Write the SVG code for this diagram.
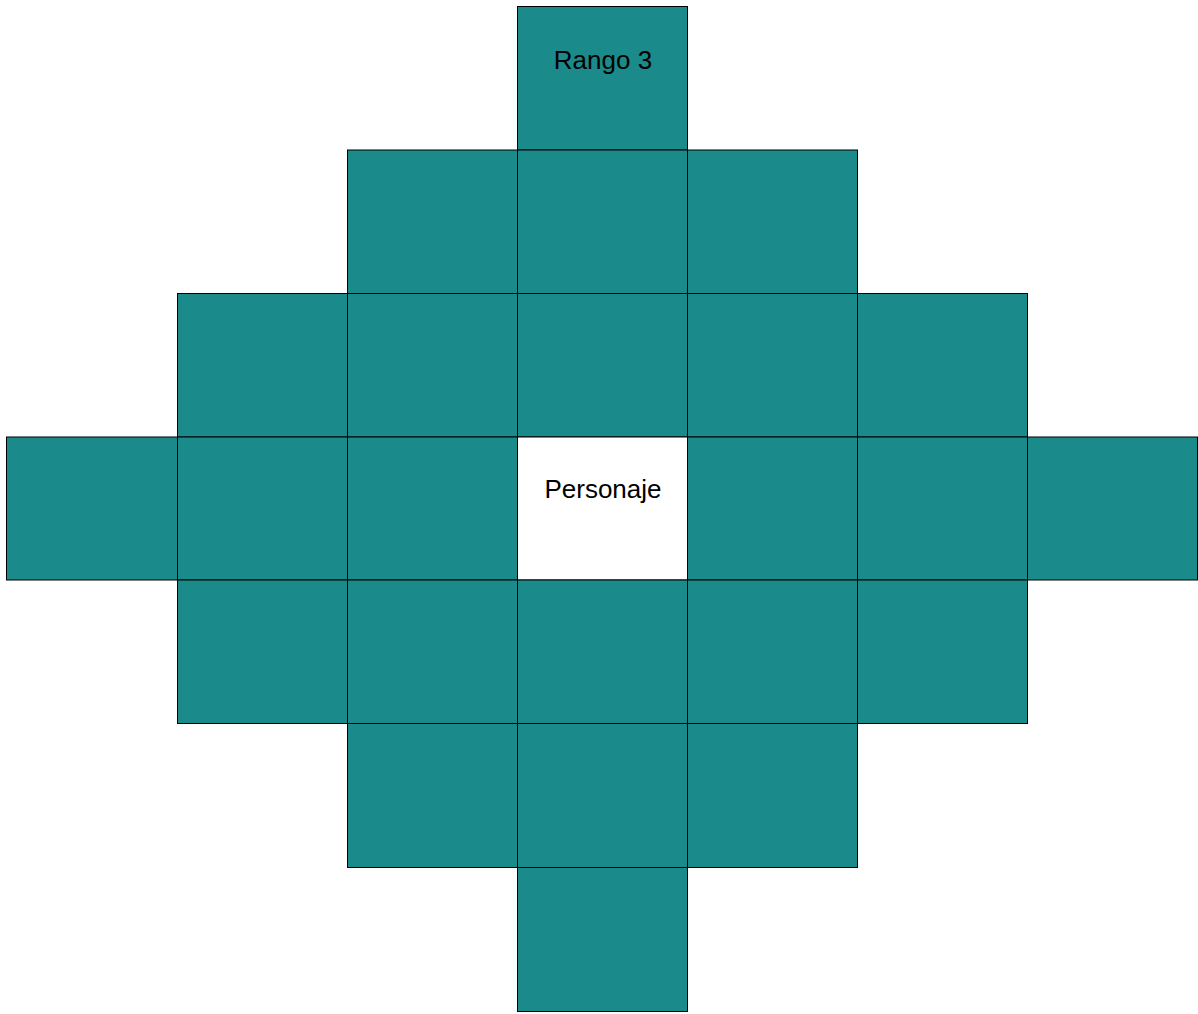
<svg xmlns="http://www.w3.org/2000/svg" width="1198" height="1014" viewBox="0 0 1198 1014">
<style>
.c{fill:#1a8a8a;stroke:#000;stroke-width:1}
.w{fill:#fff;stroke:#000;stroke-width:1}
.t{font-family:"Liberation Sans",Arial,sans-serif;font-size:26px;fill:#000;text-anchor:middle}
</style>
<rect width="1198" height="1014" fill="#fff"/>
<g id="r0c3"><rect class="c" x="517.5" y="6.5" width="170" height="143.5"/><text class="t" x="603" y="69">Rango 3</text></g>
<g id="r1c2"><rect class="c" x="347.5" y="150" width="170" height="143.5"/></g>
<g id="r1c3"><rect class="c" x="517.5" y="150" width="170" height="143.5"/></g>
<g id="r1c4"><rect class="c" x="687.5" y="150" width="170" height="143.5"/></g>
<g id="r2c1"><rect class="c" x="177.5" y="293.5" width="170" height="143.5"/></g>
<g id="r2c2"><rect class="c" x="347.5" y="293.5" width="170" height="143.5"/></g>
<g id="r2c3"><rect class="c" x="517.5" y="293.5" width="170" height="143.5"/></g>
<g id="r2c4"><rect class="c" x="687.5" y="293.5" width="170" height="143.5"/></g>
<g id="r2c5"><rect class="c" x="857.5" y="293.5" width="170" height="143.5"/></g>
<g id="r3c0"><rect class="c" x="6.5" y="437" width="171" height="143"/></g>
<g id="r3c1"><rect class="c" x="177.5" y="437" width="170" height="143"/></g>
<g id="r3c2"><rect class="c" x="347.5" y="437" width="170" height="143"/></g>
<g id="personaje"><rect class="w" x="517.5" y="437" width="170" height="143"/><text class="t" x="603" y="498">Personaje</text></g>
<g id="r3c4"><rect class="c" x="687.5" y="437" width="170" height="143"/></g>
<g id="r3c5"><rect class="c" x="857.5" y="437" width="170" height="143"/></g>
<g id="r3c6"><rect class="c" x="1027.5" y="437" width="170" height="143"/></g>
<g id="r4c1"><rect class="c" x="177.5" y="580" width="170" height="143.5"/></g>
<g id="r4c2"><rect class="c" x="347.5" y="580" width="170" height="143.5"/></g>
<g id="r4c3"><rect class="c" x="517.5" y="580" width="170" height="143.5"/></g>
<g id="r4c4"><rect class="c" x="687.5" y="580" width="170" height="143.5"/></g>
<g id="r4c5"><rect class="c" x="857.5" y="580" width="170" height="143.5"/></g>
<g id="r5c2"><rect class="c" x="347.5" y="723.5" width="170" height="144"/></g>
<g id="r5c3"><rect class="c" x="517.5" y="723.5" width="170" height="144"/></g>
<g id="r5c4"><rect class="c" x="687.5" y="723.5" width="170" height="144"/></g>
<g id="r6c3"><rect class="c" x="517.5" y="867.5" width="170" height="144"/></g>
<g id="connectors"></g>
</svg>
